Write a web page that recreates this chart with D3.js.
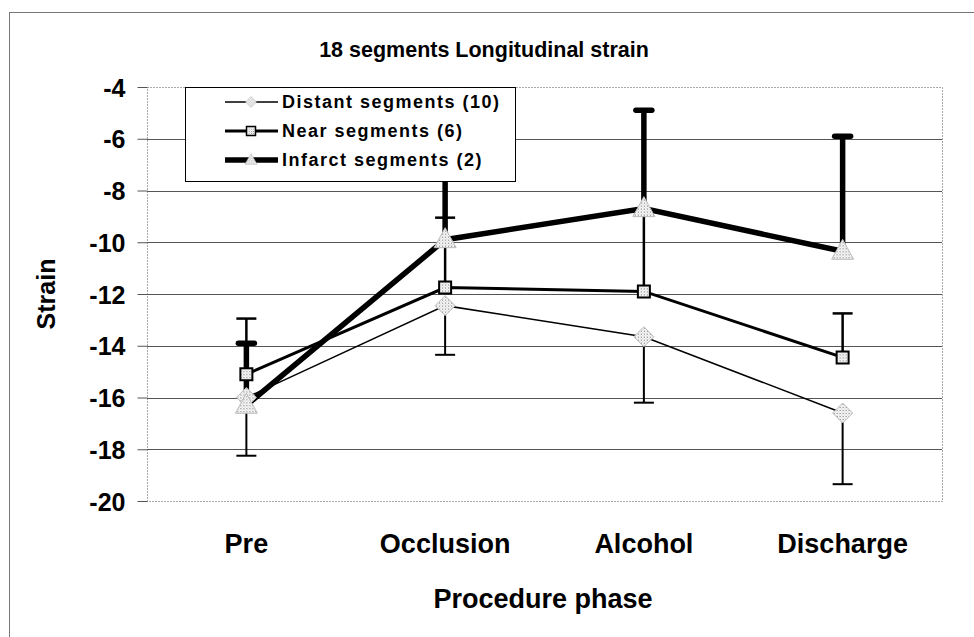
<!DOCTYPE html>
<meta charset="utf-8">
<script src="https://d3js.org/d3.v7.min.js"></script>
<style>
  body { margin: 0; background: #fff; }
  text { font-family: "Liberation Sans", Arial, sans-serif; font-weight: bold; fill: #000; }
</style>
<div id="chart"></div>
<script>
// data
var phases = ["Pre", "Occlusion", "Alcohol", "Discharge"];
var yTicks = [-4, -6, -8, -10, -12, -14, -16, -18, -20];

var distantMean = [-16.0, -12.45, -13.65, -16.6];
var distantLow = [-18.25, -14.35, -16.2, -19.35];   // minus error bars only
var nearMean = [-15.1, -11.75, -11.9, -14.45];
var nearHigh = [-12.95, -9.05, -8.9, -12.75];       // plus error bars only
var infarctMean = [-16.3, -9.9, -8.7, -10.35];
var infarctHigh = [-13.9, -6.5, -4.9, -5.9];

var width = 974, height = 637;
var mLeft = 147, mRight = 942, mTop = 87, mBottom = 501;

var svg = d3.select("#chart").append("svg")
  .attr("width", width)
  .attr("height", height);

// dotted marker fill
var defs = svg.append("defs");
var pat = defs.append("pattern")
  .attr("id", "dots")
  .attr("width", 3).attr("height", 3)
  .attr("patternUnits", "userSpaceOnUse");
pat.append("rect").attr("width", 3).attr("height", 3).attr("fill", "#fff");
pat.append("rect").attr("width", 1).attr("height", 1).attr("fill", "#666");
pat.append("rect").attr("x", 1.5).attr("y", 1.5).attr("width", 1).attr("height", 1).attr("fill", "#999");

// outer chart frame
svg.append("rect")
  .attr("x", 9.5).attr("y", 12.5)
  .attr("width", 1000).attr("height", 700)
  .attr("fill", "none").attr("stroke", "#777").attr("stroke-width", 1);

var x = d3.scaleBand().domain(phases).range([mLeft, mRight]);
var y = d3.scaleLinear().domain([-20, -4]).range([mBottom, mTop]);
function cx(d, i) { return x(phases[i]) + x.bandwidth() / 2; }

// gridlines
svg.append("g").selectAll("line")
  .data(yTicks.filter(function(d) { return d > -20 && d < -4; }))
  .enter().append("line")
  .attr("x1", mLeft).attr("x2", mRight)
  .attr("y1", function(d) { return Math.round(y(d)) + 0.5; })
  .attr("y2", function(d) { return Math.round(y(d)) + 0.5; })
  .attr("stroke", "#555").attr("stroke-width", 1);

// dotted plot border
svg.append("rect")
  .attr("x", mLeft + 0.5).attr("y", mTop + 0.5)
  .attr("width", mRight - mLeft).attr("height", mBottom - mTop)
  .attr("fill", "none").attr("stroke", "#555")
  .attr("stroke-dasharray", "1,2");

// y axis
var yAxis = svg.append("g")
  .attr("transform", "translate(" + (mLeft + 0.5) + ",0)")
  .call(d3.axisLeft(y).tickValues(yTicks).tickSize(10).tickPadding(12)
    .tickFormat(function(d) { return String(d); }));
yAxis.select(".domain").remove();
yAxis.selectAll(".tick line").attr("stroke", "#555");
yAxis.selectAll(".tick text")
  .style("font-size", "25px")
  .attr("dy", "0.36em");

// x axis labels
var xAxis = svg.append("g")
  .attr("transform", "translate(0," + mBottom + ")")
  .call(d3.axisBottom(x).tickSize(0).tickPadding(33));
xAxis.select(".domain").remove();
xAxis.selectAll(".tick text").style("font-size", "27px");

// titles
svg.append("text")
  .attr("x", 484).attr("y", 57)
  .attr("text-anchor", "middle")
  .style("font-size", "21.5px")
  .text("18 segments Longitudinal strain");

svg.append("text")
  .attr("x", 543).attr("y", 608)
  .attr("text-anchor", "middle")
  .style("font-size", "27px")
  .text("Procedure phase");

svg.append("text")
  .attr("transform", "translate(55,294) rotate(-90)")
  .attr("text-anchor", "middle")
  .style("font-size", "25px")
  .text("Strain");

// error bars
function errorBars(mean, end, w, capW) {
  var g = svg.append("g");
  g.selectAll("line.bar").data(mean).enter().append("line")
    .attr("class", "bar")
    .attr("x1", cx).attr("x2", cx)
    .attr("y1", function(d) { return y(d); })
    .attr("y2", function(d, i) { return y(end[i]); })
    .attr("stroke", "#000").attr("stroke-width", w);
  g.selectAll("line.cap").data(end).enter().append("line")
    .attr("class", "cap")
    .attr("x1", function(d, i) { return cx(d, i) - capW / 2; })
    .attr("x2", function(d, i) { return cx(d, i) + capW / 2; })
    .attr("y1", function(d) { return y(d); })
    .attr("y2", function(d) { return y(d); })
    .attr("stroke", "#000").attr("stroke-width", w)
    .attr("stroke-linecap", w > 3 ? "round" : "butt");
}

var line = d3.line()
  .x(function(d, i) { return cx(d, i); })
  .y(function(d) { return y(d); });

errorBars(distantMean, distantLow, 2, 20);
errorBars(nearMean, nearHigh, 2.5, 20);
errorBars(infarctMean, infarctHigh, 5.5, 16);

svg.append("path").datum(distantMean)
  .attr("d", line).attr("fill", "none")
  .attr("stroke", "#000").attr("stroke-width", 1.5);
svg.append("path").datum(nearMean)
  .attr("d", line).attr("fill", "none")
  .attr("stroke", "#000").attr("stroke-width", 3);
svg.append("path").datum(infarctMean)
  .attr("d", line).attr("fill", "none")
  .attr("stroke", "#000").attr("stroke-width", 5.5);

// markers
var diamond = "M0,-10L10,0L0,10L-10,0Z";
var square = "M-6,-6H6V6H-6Z";
var triangle = "M0,-12L11,8L-11,8Z";

function markers(data, path, stroke, sw) {
  svg.append("g").selectAll("path").data(data).enter().append("path")
    .attr("d", path)
    .attr("transform", function(d, i) { return "translate(" + cx(d, i) + "," + y(d) + ")"; })
    .attr("fill", "url(#dots)")
    .attr("stroke", stroke).attr("stroke-width", sw);
}
markers(distantMean, diamond, "#bbb", 1);
markers(nearMean, square, "#000", 2);
markers(infarctMean, triangle, "#bbb", 1);

// legend
var lg = svg.append("g");
lg.append("rect")
  .attr("x", 185.5).attr("y", mTop + 0.5)
  .attr("width", 330).attr("height", 94)
  .attr("fill", "#fff").attr("stroke", "#000").attr("stroke-width", 1);

var legendItems = [
  { label: "Distant segments (10)", w: 1.5, path: diamond, stroke: "#bbb", sw: 1, s: 0.55 },
  { label: "Near segments (6)", w: 3, path: square, stroke: "#000", sw: 2, s: 0.75 },
  { label: "Infarct segments (2)", w: 5.5, path: triangle, stroke: "#bbb", sw: 1, s: 0.55 }
];
var rows = lg.selectAll("g.row").data(legendItems).enter().append("g")
  .attr("transform", function(d, i) { return "translate(0," + (102 + i * 29) + ")"; });
rows.append("line")
  .attr("x1", 225).attr("x2", 278)
  .attr("stroke", "#000")
  .attr("stroke-width", function(d) { return d.w; });
rows.append("path")
  .attr("d", function(d) { return d.path; })
  .attr("transform", function(d) { return "translate(251,0) scale(" + d.s + ")"; })
  .attr("fill", "url(#dots)")
  .attr("stroke", function(d) { return d.stroke; })
  .attr("stroke-width", function(d) { return d.sw; });
rows.append("text")
  .attr("x", 282).attr("dy", "0.36em")
  .style("font-size", "18px")
  .style("letter-spacing", "1.5px")
  .text(function(d) { return d.label; });
</script>
